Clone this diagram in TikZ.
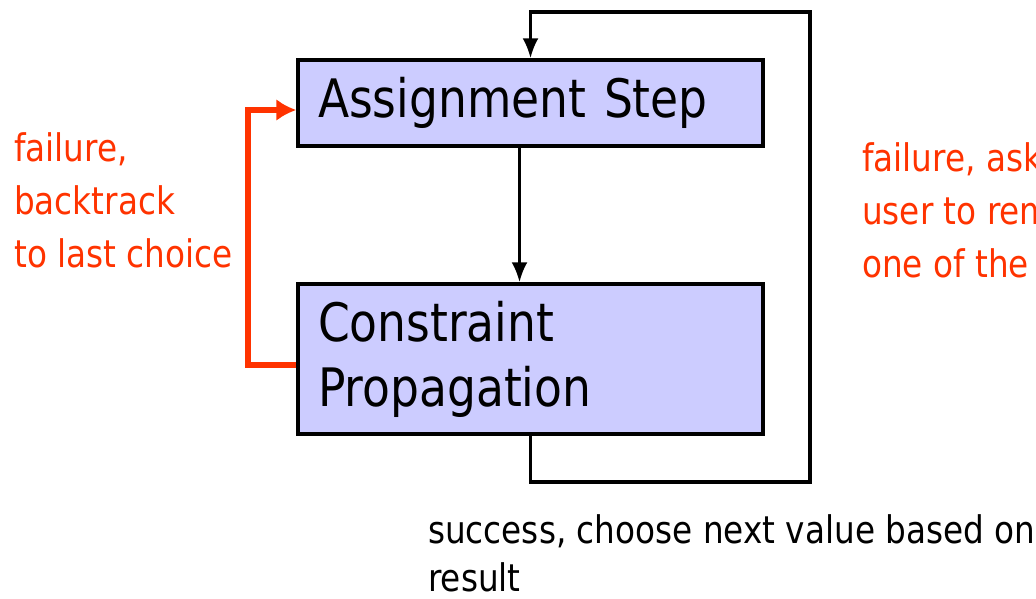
\documentclass[tikz,border=0pt]{standalone}
\usepackage{fontspec}
\setmainfont{DejaVu Sans}[FakeStretch=0.86]
\usetikzlibrary{arrows.meta,positioning}
\definecolor{boxfill}{HTML}{CCCCFF}
\definecolor{failred}{HTML}{FF3300}

\begin{document}
\begin{tikzpicture}[
    x=1pt, y=-1pt,
    >={Latex[length=20pt,width=16pt]},
    block/.style={
		rectangle,
		draw=black,
		line width=3.4pt,
		fill=boxfill,
		minimum width=465pt,
		text width=425pt,
		align=left,
		inner sep=0pt,
		font=\fontsize{53}{65}\selectfont
	},
	note/.style={
		anchor=base west,
		align=left,
		inner sep=0pt,
		font=\fontsize{38}{53}\selectfont
	},
	flow/.style={draw=black, line width=3.2pt, ->},
	back/.style={draw=failred, line width=6pt, -{Latex[length=20pt,width=22pt]}}
  ]
  \useasboundingbox (0,0) rectangle (1036,599);
    % We start by placing the blocks
  \node [block, minimum height=86pt] (assign) at (530.5,103) {Assignment Step};
  \node [block, minimum height=150pt] (prop) at (530.5,359) {Constraint\\Propagation};

  % labels (base = last line)
  \node [note, text=failred] (backlbl) at (14,267) {failure,\\backtrack\\to last choice};
  \node [note, text=failred] (asklbl) at (862,277) {failure, ask\\user to rem\\one of the};
  \node [note, font=\fontsize{38}{48}\selectfont] (succlbl) at (428,591) {success, choose next value based on\\result};

  % corners of the outer loop
  \coordinate (rb) at (810,482);
  \coordinate (rt) at (810,12);

  \draw [flow] ([xshift=-11pt]assign.south) -- ([xshift=-11pt]prop.north);
  \draw [flow] (prop.south) |- (rb) -- (rt) -| (assign.north);
  \draw [back] ([yshift=-6pt]prop.west) -- ++(-48,0) |- ([yshift=-7pt]assign.west);

\end{tikzpicture}
\end{document}
